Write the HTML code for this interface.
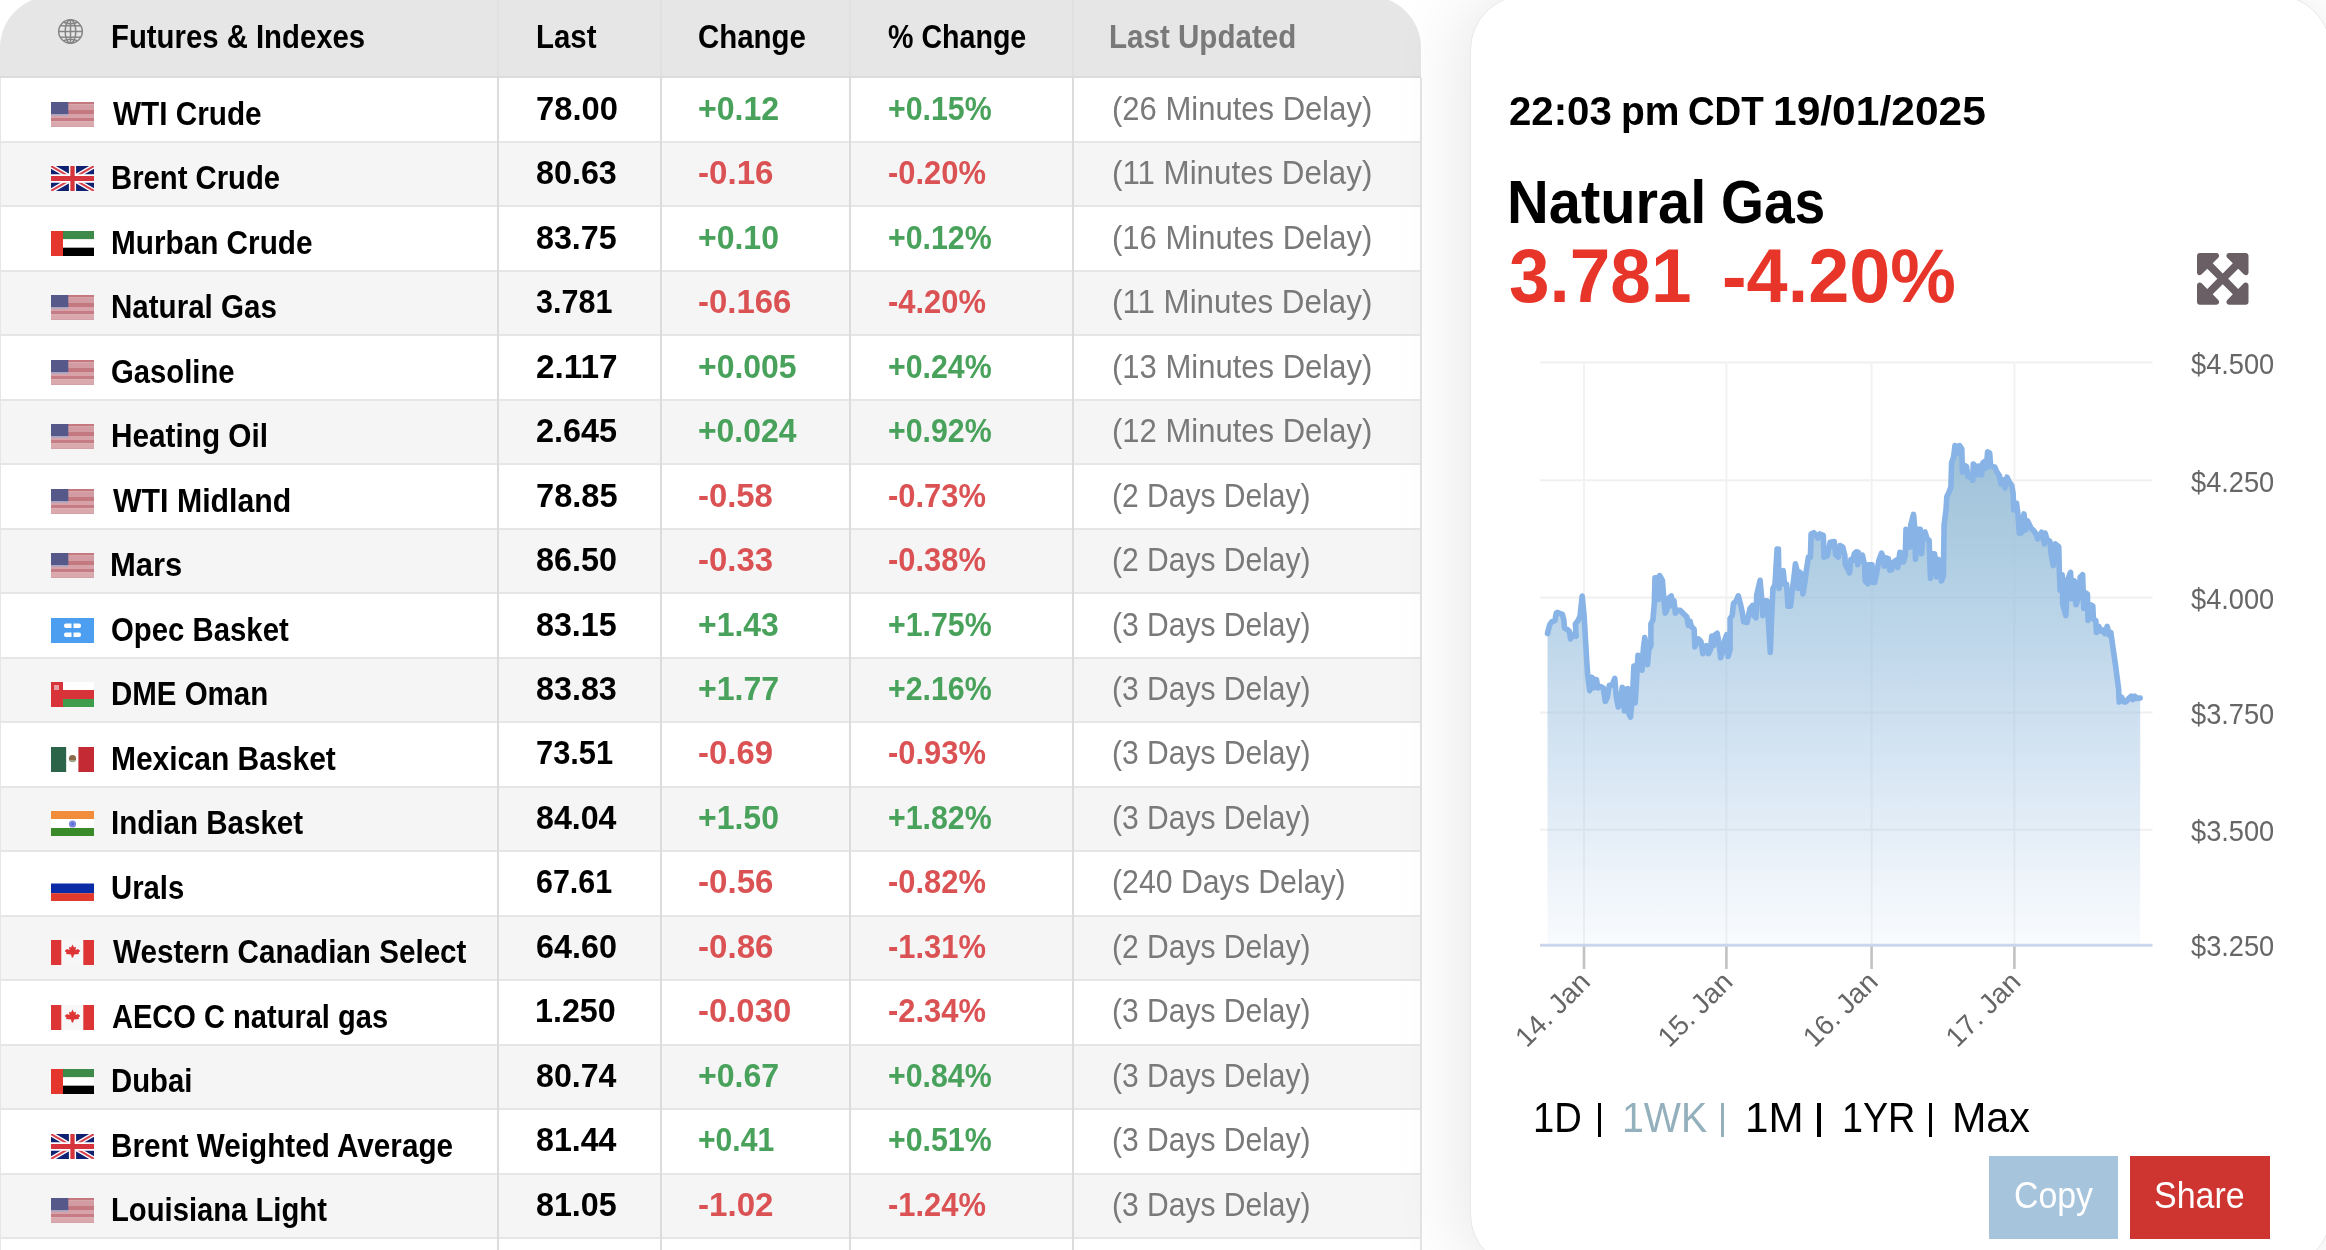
<!DOCTYPE html><html><head><meta charset="utf-8"><style>
html,body{margin:0;padding:0;}
body{width:2326px;height:1250px;overflow:hidden;position:relative;background:#fff;font-family:"Liberation Sans",sans-serif;}
.t{position:absolute;white-space:nowrap;line-height:1;transform-origin:0 0;}
.a{position:absolute;}
</style></head><body>
<div class="a" style="left:0;top:-4px;width:1421px;height:80px;background:#e6e6e6;border-radius:52px 52px 0 0;"></div>
<div class="a" style="left:0;top:76px;width:1421px;height:2px;background:#dcdcdc;"></div>
<div class="a" style="left:497px;top:0;width:2px;height:76px;background:#e0e0e0;"></div>
<div class="a" style="left:660px;top:0;width:2px;height:76px;background:#e0e0e0;"></div>
<div class="a" style="left:849px;top:0;width:2px;height:76px;background:#e0e0e0;"></div>
<div class="a" style="left:1072px;top:0;width:2px;height:76px;background:#e0e0e0;"></div>
<div class="a" style="left:0;top:78.00px;width:1421px;height:62.90px;background:#fff;"></div>
<div class="a" style="left:0;top:140.90px;width:1421px;height:2px;background:#e6e6e6;"></div>
<div class="a" style="left:0;top:142.90px;width:1421px;height:62.49px;background:#f5f5f5;"></div>
<div class="a" style="left:0;top:205.39px;width:1421px;height:2px;background:#e6e6e6;"></div>
<div class="a" style="left:0;top:207.39px;width:1421px;height:62.49px;background:#fff;"></div>
<div class="a" style="left:0;top:269.88px;width:1421px;height:2px;background:#e6e6e6;"></div>
<div class="a" style="left:0;top:271.88px;width:1421px;height:62.49px;background:#f5f5f5;"></div>
<div class="a" style="left:0;top:334.37px;width:1421px;height:2px;background:#e6e6e6;"></div>
<div class="a" style="left:0;top:336.37px;width:1421px;height:62.49px;background:#fff;"></div>
<div class="a" style="left:0;top:398.86px;width:1421px;height:2px;background:#e6e6e6;"></div>
<div class="a" style="left:0;top:400.86px;width:1421px;height:62.49px;background:#f5f5f5;"></div>
<div class="a" style="left:0;top:463.35px;width:1421px;height:2px;background:#e6e6e6;"></div>
<div class="a" style="left:0;top:465.35px;width:1421px;height:62.49px;background:#fff;"></div>
<div class="a" style="left:0;top:527.84px;width:1421px;height:2px;background:#e6e6e6;"></div>
<div class="a" style="left:0;top:529.84px;width:1421px;height:62.49px;background:#f5f5f5;"></div>
<div class="a" style="left:0;top:592.33px;width:1421px;height:2px;background:#e6e6e6;"></div>
<div class="a" style="left:0;top:594.33px;width:1421px;height:62.49px;background:#fff;"></div>
<div class="a" style="left:0;top:656.82px;width:1421px;height:2px;background:#e6e6e6;"></div>
<div class="a" style="left:0;top:658.82px;width:1421px;height:62.49px;background:#f5f5f5;"></div>
<div class="a" style="left:0;top:721.31px;width:1421px;height:2px;background:#e6e6e6;"></div>
<div class="a" style="left:0;top:723.31px;width:1421px;height:62.49px;background:#fff;"></div>
<div class="a" style="left:0;top:785.80px;width:1421px;height:2px;background:#e6e6e6;"></div>
<div class="a" style="left:0;top:787.80px;width:1421px;height:62.49px;background:#f5f5f5;"></div>
<div class="a" style="left:0;top:850.29px;width:1421px;height:2px;background:#e6e6e6;"></div>
<div class="a" style="left:0;top:852.29px;width:1421px;height:62.49px;background:#fff;"></div>
<div class="a" style="left:0;top:914.78px;width:1421px;height:2px;background:#e6e6e6;"></div>
<div class="a" style="left:0;top:916.78px;width:1421px;height:62.49px;background:#f5f5f5;"></div>
<div class="a" style="left:0;top:979.27px;width:1421px;height:2px;background:#e6e6e6;"></div>
<div class="a" style="left:0;top:981.27px;width:1421px;height:62.49px;background:#fff;"></div>
<div class="a" style="left:0;top:1043.76px;width:1421px;height:2px;background:#e6e6e6;"></div>
<div class="a" style="left:0;top:1045.76px;width:1421px;height:62.49px;background:#f5f5f5;"></div>
<div class="a" style="left:0;top:1108.25px;width:1421px;height:2px;background:#e6e6e6;"></div>
<div class="a" style="left:0;top:1110.25px;width:1421px;height:62.49px;background:#fff;"></div>
<div class="a" style="left:0;top:1172.74px;width:1421px;height:2px;background:#e6e6e6;"></div>
<div class="a" style="left:0;top:1174.74px;width:1421px;height:62.49px;background:#f5f5f5;"></div>
<div class="a" style="left:0;top:1237.23px;width:1421px;height:2px;background:#e6e6e6;"></div>
<div class="a" style="left:0;top:1239.23px;width:1421px;height:62.49px;background:#fff;"></div>
<div class="a" style="left:0;top:1301.72px;width:1421px;height:2px;background:#e6e6e6;"></div>
<div class="a" style="left:0;top:78px;width:1px;height:1200px;background:#e6e6e6;"></div>
<div class="a" style="left:497px;top:78px;width:2px;height:1200px;background:#dcdcdc;"></div>
<div class="a" style="left:660px;top:78px;width:2px;height:1200px;background:#dcdcdc;"></div>
<div class="a" style="left:849px;top:78px;width:2px;height:1200px;background:#dcdcdc;"></div>
<div class="a" style="left:1072px;top:78px;width:2px;height:1200px;background:#dcdcdc;"></div>
<div class="a" style="left:1420px;top:78px;width:2px;height:1260px;background:#e4e4e4;"></div>
<svg class="a" style="left:57px;top:17.8px;filter:blur(0.35px)" width="27" height="27" viewBox="0 0 27 27"><g fill="none" stroke="#858585" stroke-width="1.5"><circle cx="13.5" cy="13.5" r="11.8"/><ellipse cx="13.5" cy="13.5" rx="5.3" ry="11.8"/><line x1="13.5" y1="1.7" x2="13.5" y2="25.3"/><line x1="1.7" y1="13.5" x2="25.3" y2="13.5"/><line x1="3" y1="7.8" x2="24" y2="7.8"/><line x1="3" y1="19.2" x2="24" y2="19.2"/><path d="M6.5,4.2 Q13.5,7.2 20.5,4.2"/><path d="M6.5,22.8 Q13.5,19.8 20.5,22.8"/></g></svg>
<span class="t" style="left:110.58px;top:21px;font-size:32.5px;font-weight:bold;color:#000;transform:scaleX(0.9021);">Futures &amp; Indexes</span>
<span class="t" style="left:536.08px;top:21px;font-size:32.5px;font-weight:bold;color:#000;transform:scaleX(0.9049);">Last</span>
<span class="t" style="left:698.25px;top:21px;font-size:32.5px;font-weight:bold;color:#000;transform:scaleX(0.9058);">Change</span>
<span class="t" style="left:888.34px;top:21px;font-size:32.5px;font-weight:bold;color:#000;transform:scaleX(0.8800);">% Change</span>
<span class="t" style="left:1109.37px;top:21px;font-size:32.5px;font-weight:bold;color:#797979;transform:scaleX(0.9095);">Last Updated</span>
<div class="a" style="left:51px;top:102.00px;width:43px;height:25px;filter:blur(0.45px);"><svg width="43" height="25" viewBox="0 0 43 25"><rect x="0" y="0" width="43" height="2.55" fill="#c57880"/><rect x="0" y="2.5" width="43" height="5.55" fill="#d39ca2"/><rect x="0" y="8.0" width="43" height="4.05" fill="#c47981"/><rect x="0" y="12.0" width="43" height="4.05" fill="#d7a2a8"/><rect x="0" y="16.0" width="43" height="3.55" fill="#c57c84"/><rect x="0" y="19.5" width="43" height="4.55" fill="#d9a9ae"/><rect x="0" y="24.0" width="43" height="1.05" fill="#d3a1a7"/><rect x="0" y="0" width="17.3" height="12.2" fill="#56588a"/><rect x="0" y="12.2" width="17.3" height="1.6" fill="#a9a9c4"/></svg></div>
<span class="t" style="left:112.50px;top:98px;font-size:32.5px;font-weight:bold;color:#000;transform:scaleX(0.9148);">WTI Crude</span>
<span class="t" style="left:535.62px;top:93px;font-size:32.5px;font-weight:bold;color:#000;transform:scaleX(1.0064);">78.00</span>
<span class="t" style="left:697.64px;top:93px;font-size:32.5px;font-weight:bold;color:#49a25b;transform:scaleX(0.9874);">+0.12</span>
<span class="t" style="left:887.72px;top:93px;font-size:32.5px;font-weight:bold;color:#49a25b;transform:scaleX(0.9323);">+0.15%</span>
<span class="t" style="left:1111.59px;top:93px;font-size:32.5px;font-weight:normal;color:#797979;transform:scaleX(0.9544);">(26 Minutes Delay)</span>
<div class="a" style="left:51px;top:166.49px;width:43px;height:25px;filter:blur(0.45px);"><svg width="43" height="25" viewBox="0 0 60 30" preserveAspectRatio="none"><rect width="60" height="30" fill="#0f2170"/><path d="M0,0 L60,30 M60,0 L0,30" stroke="#fff" stroke-width="6"/><path d="M0,0 L60,30 M60,0 L0,30" stroke="#d8434f" stroke-width="2.5"/><path d="M30,0 V30 M0,15 H60" stroke="#fff" stroke-width="10"/><path d="M30,0 V30 M0,15 H60" stroke="#d6333d" stroke-width="6"/></svg></div>
<span class="t" style="left:110.59px;top:162px;font-size:32.5px;font-weight:bold;color:#000;transform:scaleX(0.9005);">Brent Crude</span>
<span class="t" style="left:536.01px;top:157px;font-size:32.5px;font-weight:bold;color:#000;transform:scaleX(0.9937);">80.63</span>
<span class="t" style="left:697.73px;top:157px;font-size:32.5px;font-weight:bold;color:#db5254;transform:scaleX(1.0192);">-0.16</span>
<span class="t" style="left:887.81px;top:157px;font-size:32.5px;font-weight:bold;color:#db5254;transform:scaleX(0.9504);">-0.20%</span>
<span class="t" style="left:1111.57px;top:157px;font-size:32.5px;font-weight:normal;color:#797979;transform:scaleX(0.9629);">(11 Minutes Delay)</span>
<div class="a" style="left:51px;top:230.98px;width:43px;height:25px;filter:blur(0.45px);"><svg width="43" height="25" viewBox="0 0 43 25"><rect width="43" height="8.33" fill="#3e8a48"/><rect y="8.33" width="43" height="8.34" fill="#fff"/><rect y="16.67" width="43" height="8.33" fill="#000"/><rect width="12" height="25" fill="#e5362e"/></svg></div>
<span class="t" style="left:110.56px;top:227px;font-size:32.5px;font-weight:bold;color:#000;transform:scaleX(0.9148);">Murban Crude</span>
<span class="t" style="left:536.01px;top:222px;font-size:32.5px;font-weight:bold;color:#000;transform:scaleX(0.9921);">83.75</span>
<span class="t" style="left:697.65px;top:222px;font-size:32.5px;font-weight:bold;color:#49a25b;transform:scaleX(0.9843);">+0.10</span>
<span class="t" style="left:887.72px;top:222px;font-size:32.5px;font-weight:bold;color:#49a25b;transform:scaleX(0.9323);">+0.12%</span>
<span class="t" style="left:1111.59px;top:222px;font-size:32.5px;font-weight:normal;color:#797979;transform:scaleX(0.9544);">(16 Minutes Delay)</span>
<div class="a" style="left:51px;top:295.47px;width:43px;height:25px;filter:blur(0.45px);"><svg width="43" height="25" viewBox="0 0 43 25"><rect x="0" y="0" width="43" height="2.55" fill="#c57880"/><rect x="0" y="2.5" width="43" height="5.55" fill="#d39ca2"/><rect x="0" y="8.0" width="43" height="4.05" fill="#c47981"/><rect x="0" y="12.0" width="43" height="4.05" fill="#d7a2a8"/><rect x="0" y="16.0" width="43" height="3.55" fill="#c57c84"/><rect x="0" y="19.5" width="43" height="4.55" fill="#d9a9ae"/><rect x="0" y="24.0" width="43" height="1.05" fill="#d3a1a7"/><rect x="0" y="0" width="17.3" height="12.2" fill="#56588a"/><rect x="0" y="12.2" width="17.3" height="1.6" fill="#a9a9c4"/></svg></div>
<span class="t" style="left:110.57px;top:291px;font-size:32.5px;font-weight:bold;color:#000;transform:scaleX(0.9092);">Natural Gas</span>
<span class="t" style="left:536.30px;top:286px;font-size:32.5px;font-weight:bold;color:#000;transform:scaleX(0.9388);">3.781</span>
<span class="t" style="left:697.73px;top:286px;font-size:32.5px;font-weight:bold;color:#db5254;transform:scaleX(1.0139);">-0.166</span>
<span class="t" style="left:887.81px;top:286px;font-size:32.5px;font-weight:bold;color:#db5254;transform:scaleX(0.9504);">-4.20%</span>
<span class="t" style="left:1111.57px;top:286px;font-size:32.5px;font-weight:normal;color:#797979;transform:scaleX(0.9629);">(11 Minutes Delay)</span>
<div class="a" style="left:51px;top:359.96px;width:43px;height:25px;filter:blur(0.45px);"><svg width="43" height="25" viewBox="0 0 43 25"><rect x="0" y="0" width="43" height="2.55" fill="#c57880"/><rect x="0" y="2.5" width="43" height="5.55" fill="#d39ca2"/><rect x="0" y="8.0" width="43" height="4.05" fill="#c47981"/><rect x="0" y="12.0" width="43" height="4.05" fill="#d7a2a8"/><rect x="0" y="16.0" width="43" height="3.55" fill="#c57c84"/><rect x="0" y="19.5" width="43" height="4.55" fill="#d9a9ae"/><rect x="0" y="24.0" width="43" height="1.05" fill="#d3a1a7"/><rect x="0" y="0" width="17.3" height="12.2" fill="#56588a"/><rect x="0" y="12.2" width="17.3" height="1.6" fill="#a9a9c4"/></svg></div>
<span class="t" style="left:111.26px;top:356px;font-size:32.5px;font-weight:bold;color:#000;transform:scaleX(0.8999);">Gasoline</span>
<span class="t" style="left:535.85px;top:351px;font-size:32.5px;font-weight:bold;color:#000;transform:scaleX(1.0260);">2.117</span>
<span class="t" style="left:697.65px;top:351px;font-size:32.5px;font-weight:bold;color:#49a25b;transform:scaleX(0.9834);">+0.005</span>
<span class="t" style="left:887.72px;top:351px;font-size:32.5px;font-weight:bold;color:#49a25b;transform:scaleX(0.9323);">+0.24%</span>
<span class="t" style="left:1111.59px;top:351px;font-size:32.5px;font-weight:normal;color:#797979;transform:scaleX(0.9544);">(13 Minutes Delay)</span>
<div class="a" style="left:51px;top:424.45px;width:43px;height:25px;filter:blur(0.45px);"><svg width="43" height="25" viewBox="0 0 43 25"><rect x="0" y="0" width="43" height="2.55" fill="#c57880"/><rect x="0" y="2.5" width="43" height="5.55" fill="#d39ca2"/><rect x="0" y="8.0" width="43" height="4.05" fill="#c47981"/><rect x="0" y="12.0" width="43" height="4.05" fill="#d7a2a8"/><rect x="0" y="16.0" width="43" height="3.55" fill="#c57c84"/><rect x="0" y="19.5" width="43" height="4.55" fill="#d9a9ae"/><rect x="0" y="24.0" width="43" height="1.05" fill="#d3a1a7"/><rect x="0" y="0" width="17.3" height="12.2" fill="#56588a"/><rect x="0" y="12.2" width="17.3" height="1.6" fill="#a9a9c4"/></svg></div>
<span class="t" style="left:110.55px;top:420px;font-size:32.5px;font-weight:bold;color:#000;transform:scaleX(0.9155);">Heating Oil</span>
<span class="t" style="left:535.88px;top:415px;font-size:32.5px;font-weight:bold;color:#000;transform:scaleX(0.9968);">2.645</span>
<span class="t" style="left:697.65px;top:415px;font-size:32.5px;font-weight:bold;color:#49a25b;transform:scaleX(0.9810);">+0.024</span>
<span class="t" style="left:887.72px;top:415px;font-size:32.5px;font-weight:bold;color:#49a25b;transform:scaleX(0.9323);">+0.92%</span>
<span class="t" style="left:1111.59px;top:415px;font-size:32.5px;font-weight:normal;color:#797979;transform:scaleX(0.9544);">(12 Minutes Delay)</span>
<div class="a" style="left:51px;top:488.94px;width:43px;height:25px;filter:blur(0.45px);"><svg width="43" height="25" viewBox="0 0 43 25"><rect x="0" y="0" width="43" height="2.55" fill="#c57880"/><rect x="0" y="2.5" width="43" height="5.55" fill="#d39ca2"/><rect x="0" y="8.0" width="43" height="4.05" fill="#c47981"/><rect x="0" y="12.0" width="43" height="4.05" fill="#d7a2a8"/><rect x="0" y="16.0" width="43" height="3.55" fill="#c57c84"/><rect x="0" y="19.5" width="43" height="4.55" fill="#d9a9ae"/><rect x="0" y="24.0" width="43" height="1.05" fill="#d3a1a7"/><rect x="0" y="0" width="17.3" height="12.2" fill="#56588a"/><rect x="0" y="12.2" width="17.3" height="1.6" fill="#a9a9c4"/></svg></div>
<span class="t" style="left:112.50px;top:485px;font-size:32.5px;font-weight:bold;color:#000;transform:scaleX(0.9320);">WTI Midland</span>
<span class="t" style="left:535.62px;top:480px;font-size:32.5px;font-weight:bold;color:#000;transform:scaleX(1.0032);">78.85</span>
<span class="t" style="left:697.74px;top:480px;font-size:32.5px;font-weight:bold;color:#db5254;transform:scaleX(1.0104);">-0.58</span>
<span class="t" style="left:887.81px;top:480px;font-size:32.5px;font-weight:bold;color:#db5254;transform:scaleX(0.9504);">-0.73%</span>
<span class="t" style="left:1111.65px;top:480px;font-size:32.5px;font-weight:normal;color:#797979;transform:scaleX(0.9236);">(2 Days Delay)</span>
<div class="a" style="left:51px;top:553.43px;width:43px;height:25px;filter:blur(0.45px);"><svg width="43" height="25" viewBox="0 0 43 25"><rect x="0" y="0" width="43" height="2.55" fill="#c57880"/><rect x="0" y="2.5" width="43" height="5.55" fill="#d39ca2"/><rect x="0" y="8.0" width="43" height="4.05" fill="#c47981"/><rect x="0" y="12.0" width="43" height="4.05" fill="#d7a2a8"/><rect x="0" y="16.0" width="43" height="3.55" fill="#c57c84"/><rect x="0" y="19.5" width="43" height="4.55" fill="#d9a9ae"/><rect x="0" y="24.0" width="43" height="1.05" fill="#d3a1a7"/><rect x="0" y="0" width="17.3" height="12.2" fill="#56588a"/><rect x="0" y="12.2" width="17.3" height="1.6" fill="#a9a9c4"/></svg></div>
<span class="t" style="left:110.47px;top:549px;font-size:32.5px;font-weight:bold;color:#000;transform:scaleX(0.9534);">Mars</span>
<span class="t" style="left:536.00px;top:544px;font-size:32.5px;font-weight:bold;color:#000;transform:scaleX(0.9953);">86.50</span>
<span class="t" style="left:697.73px;top:544px;font-size:32.5px;font-weight:bold;color:#db5254;transform:scaleX(1.0140);">-0.33</span>
<span class="t" style="left:887.81px;top:544px;font-size:32.5px;font-weight:bold;color:#db5254;transform:scaleX(0.9504);">-0.38%</span>
<span class="t" style="left:1111.65px;top:544px;font-size:32.5px;font-weight:normal;color:#797979;transform:scaleX(0.9236);">(2 Days Delay)</span>
<div class="a" style="left:51px;top:617.92px;width:43px;height:25px;filter:blur(0.45px);"><svg width="43" height="25" viewBox="0 0 43 25"><rect width="43" height="25" fill="#4b9ef0"/><rect x="13" y="5.5" width="17" height="4.5" rx="2" fill="#fff"/><rect x="13" y="14.5" width="17" height="4.5" rx="2" fill="#fff"/><rect x="20.5" y="5" width="2" height="15" fill="#4b9ef0"/></svg></div>
<span class="t" style="left:111.26px;top:614px;font-size:32.5px;font-weight:bold;color:#000;transform:scaleX(0.9027);">Opec Basket</span>
<span class="t" style="left:536.01px;top:609px;font-size:32.5px;font-weight:bold;color:#000;transform:scaleX(0.9921);">83.15</span>
<span class="t" style="left:697.65px;top:609px;font-size:32.5px;font-weight:bold;color:#49a25b;transform:scaleX(0.9827);">+1.43</span>
<span class="t" style="left:887.72px;top:609px;font-size:32.5px;font-weight:bold;color:#49a25b;transform:scaleX(0.9323);">+1.75%</span>
<span class="t" style="left:1111.65px;top:609px;font-size:32.5px;font-weight:normal;color:#797979;transform:scaleX(0.9236);">(3 Days Delay)</span>
<div class="a" style="left:51px;top:682.41px;width:43px;height:25px;filter:blur(0.45px);"><svg width="43" height="25" viewBox="0 0 43 25"><rect width="43" height="25" fill="#d9333a"/><rect x="12" width="31" height="8" fill="#fff"/><rect x="12" y="17" width="31" height="8" fill="#3f9c4a"/><rect x="3" y="3" width="5" height="5" fill="#e6a0a6"/></svg></div>
<span class="t" style="left:110.57px;top:678px;font-size:32.5px;font-weight:bold;color:#000;transform:scaleX(0.9069);">DME Oman</span>
<span class="t" style="left:536.01px;top:673px;font-size:32.5px;font-weight:bold;color:#000;transform:scaleX(0.9937);">83.83</span>
<span class="t" style="left:697.64px;top:673px;font-size:32.5px;font-weight:bold;color:#49a25b;transform:scaleX(0.9874);">+1.77</span>
<span class="t" style="left:887.72px;top:673px;font-size:32.5px;font-weight:bold;color:#49a25b;transform:scaleX(0.9323);">+2.16%</span>
<span class="t" style="left:1111.65px;top:673px;font-size:32.5px;font-weight:normal;color:#797979;transform:scaleX(0.9236);">(3 Days Delay)</span>
<div class="a" style="left:51px;top:746.90px;width:43px;height:25px;filter:blur(0.45px);"><svg width="43" height="25" viewBox="0 0 43 25"><rect width="15.4" height="25" fill="#2c6449"/><rect x="15.4" width="12" height="25" fill="#fff"/><rect x="27.4" width="15.6" height="25" fill="#c42a33"/><circle cx="21.5" cy="11.5" r="3.6" fill="#8a6a4a"/><path d="M18.2,13 A3.6,3.6 0 0 0 24.8,13 Z" fill="#9aa88a"/></svg></div>
<span class="t" style="left:110.54px;top:743px;font-size:32.5px;font-weight:bold;color:#000;transform:scaleX(0.9218);">Mexican Basket</span>
<span class="t" style="left:535.70px;top:737px;font-size:32.5px;font-weight:bold;color:#000;transform:scaleX(0.9478);">73.51</span>
<span class="t" style="left:697.73px;top:737px;font-size:32.5px;font-weight:bold;color:#db5254;transform:scaleX(1.0122);">-0.69</span>
<span class="t" style="left:887.81px;top:737px;font-size:32.5px;font-weight:bold;color:#db5254;transform:scaleX(0.9504);">-0.93%</span>
<span class="t" style="left:1111.65px;top:737px;font-size:32.5px;font-weight:normal;color:#797979;transform:scaleX(0.9236);">(3 Days Delay)</span>
<div class="a" style="left:51px;top:811.39px;width:43px;height:25px;filter:blur(0.45px);"><svg width="43" height="25" viewBox="0 0 43 25"><rect width="43" height="8" fill="#f08c3a"/><rect y="8" width="43" height="9" fill="#fff"/><rect y="17" width="43" height="8" fill="#3b8a2a"/><circle cx="21.5" cy="13" r="3.6" fill="#7c88e0"/><circle cx="21.5" cy="13" r="1.4" fill="#5a6ad0"/></svg></div>
<span class="t" style="left:110.57px;top:807px;font-size:32.5px;font-weight:bold;color:#000;transform:scaleX(0.9090);">Indian Basket</span>
<span class="t" style="left:536.01px;top:802px;font-size:32.5px;font-weight:bold;color:#000;transform:scaleX(0.9891);">84.04</span>
<span class="t" style="left:697.65px;top:802px;font-size:32.5px;font-weight:bold;color:#49a25b;transform:scaleX(0.9843);">+1.50</span>
<span class="t" style="left:887.72px;top:802px;font-size:32.5px;font-weight:bold;color:#49a25b;transform:scaleX(0.9323);">+1.82%</span>
<span class="t" style="left:1111.65px;top:802px;font-size:32.5px;font-weight:normal;color:#797979;transform:scaleX(0.9236);">(3 Days Delay)</span>
<div class="a" style="left:51px;top:875.88px;width:43px;height:25px;filter:blur(0.45px);"><svg width="43" height="25" viewBox="0 0 43 25"><rect width="43" height="7.5" fill="#fff"/><rect y="7.5" width="43" height="9.7" fill="#0b2aa6"/><rect y="17.2" width="43" height="7.8" fill="#e23a2c"/></svg></div>
<span class="t" style="left:110.70px;top:872px;font-size:32.5px;font-weight:bold;color:#000;transform:scaleX(0.9006);">Urals</span>
<span class="t" style="left:535.95px;top:866px;font-size:32.5px;font-weight:bold;color:#000;transform:scaleX(0.9369);">67.61</span>
<span class="t" style="left:697.73px;top:866px;font-size:32.5px;font-weight:bold;color:#db5254;transform:scaleX(1.0192);">-0.56</span>
<span class="t" style="left:887.81px;top:866px;font-size:32.5px;font-weight:bold;color:#db5254;transform:scaleX(0.9504);">-0.82%</span>
<span class="t" style="left:1111.64px;top:866px;font-size:32.5px;font-weight:normal;color:#797979;transform:scaleX(0.9307);">(240 Days Delay)</span>
<div class="a" style="left:51px;top:940.37px;width:43px;height:25px;filter:blur(0.45px);"><svg width="43" height="25" viewBox="0 0 43 25"><rect width="43" height="25" fill="#f7f7f7"/><rect width="10.3" height="25" fill="#dd3535"/><rect x="32.3" width="10.7" height="25" fill="#dd3535"/><path d="M21.5,4.4 L23,7.5 L25,6.8 L24.5,10 L27,9 L29.4,11 L27.5,12.5 L28,14 L23,14.5 L22.2,17.5 L20.8,17.5 L20,14.5 L15,14 L15.5,12.5 L13.6,11 L16,9 L18.5,10 L18,6.8 L20,7.5 Z" fill="#dd3535"/></svg></div>
<span class="t" style="left:112.50px;top:936px;font-size:32.5px;font-weight:bold;color:#000;transform:scaleX(0.9116);">Western Canadian Select</span>
<span class="t" style="left:535.88px;top:931px;font-size:32.5px;font-weight:bold;color:#000;transform:scaleX(0.9952);">64.60</span>
<span class="t" style="left:697.73px;top:931px;font-size:32.5px;font-weight:bold;color:#db5254;transform:scaleX(1.0192);">-0.86</span>
<span class="t" style="left:887.81px;top:931px;font-size:32.5px;font-weight:bold;color:#db5254;transform:scaleX(0.9504);">-1.31%</span>
<span class="t" style="left:1111.65px;top:931px;font-size:32.5px;font-weight:normal;color:#797979;transform:scaleX(0.9236);">(2 Days Delay)</span>
<div class="a" style="left:51px;top:1004.86px;width:43px;height:25px;filter:blur(0.45px);"><svg width="43" height="25" viewBox="0 0 43 25"><rect width="43" height="25" fill="#f7f7f7"/><rect width="10.3" height="25" fill="#dd3535"/><rect x="32.3" width="10.7" height="25" fill="#dd3535"/><path d="M21.5,4.4 L23,7.5 L25,6.8 L24.5,10 L27,9 L29.4,11 L27.5,12.5 L28,14 L23,14.5 L22.2,17.5 L20.8,17.5 L20,14.5 L15,14 L15.5,12.5 L13.6,11 L16,9 L18.5,10 L18,6.8 L20,7.5 Z" fill="#dd3535"/></svg></div>
<span class="t" style="left:111.72px;top:1001px;font-size:32.5px;font-weight:bold;color:#000;transform:scaleX(0.8940);">AECO C natural gas</span>
<span class="t" style="left:535.02px;top:995px;font-size:32.5px;font-weight:bold;color:#000;transform:scaleX(0.9920);">1.250</span>
<span class="t" style="left:697.74px;top:995px;font-size:32.5px;font-weight:bold;color:#db5254;transform:scaleX(1.0112);">-0.030</span>
<span class="t" style="left:887.81px;top:995px;font-size:32.5px;font-weight:bold;color:#db5254;transform:scaleX(0.9504);">-2.34%</span>
<span class="t" style="left:1111.65px;top:995px;font-size:32.5px;font-weight:normal;color:#797979;transform:scaleX(0.9236);">(3 Days Delay)</span>
<div class="a" style="left:51px;top:1069.35px;width:43px;height:25px;filter:blur(0.45px);"><svg width="43" height="25" viewBox="0 0 43 25"><rect width="43" height="8.33" fill="#3e8a48"/><rect y="8.33" width="43" height="8.34" fill="#fff"/><rect y="16.67" width="43" height="8.33" fill="#000"/><rect width="12" height="25" fill="#e5362e"/></svg></div>
<span class="t" style="left:110.59px;top:1065px;font-size:32.5px;font-weight:bold;color:#000;transform:scaleX(0.9010);">Dubai</span>
<span class="t" style="left:536.01px;top:1060px;font-size:32.5px;font-weight:bold;color:#000;transform:scaleX(0.9891);">80.74</span>
<span class="t" style="left:697.64px;top:1060px;font-size:32.5px;font-weight:bold;color:#49a25b;transform:scaleX(0.9874);">+0.67</span>
<span class="t" style="left:887.72px;top:1060px;font-size:32.5px;font-weight:bold;color:#49a25b;transform:scaleX(0.9323);">+0.84%</span>
<span class="t" style="left:1111.65px;top:1060px;font-size:32.5px;font-weight:normal;color:#797979;transform:scaleX(0.9236);">(3 Days Delay)</span>
<div class="a" style="left:51px;top:1133.84px;width:43px;height:25px;filter:blur(0.45px);"><svg width="43" height="25" viewBox="0 0 60 30" preserveAspectRatio="none"><rect width="60" height="30" fill="#0f2170"/><path d="M0,0 L60,30 M60,0 L0,30" stroke="#fff" stroke-width="6"/><path d="M0,0 L60,30 M60,0 L0,30" stroke="#d8434f" stroke-width="2.5"/><path d="M30,0 V30 M0,15 H60" stroke="#fff" stroke-width="10"/><path d="M30,0 V30 M0,15 H60" stroke="#d6333d" stroke-width="6"/></svg></div>
<span class="t" style="left:110.56px;top:1130px;font-size:32.5px;font-weight:bold;color:#000;transform:scaleX(0.9135);">Brent Weighted Average</span>
<span class="t" style="left:536.01px;top:1124px;font-size:32.5px;font-weight:bold;color:#000;transform:scaleX(0.9891);">81.44</span>
<span class="t" style="left:697.73px;top:1124px;font-size:32.5px;font-weight:bold;color:#49a25b;transform:scaleX(0.9264);">+0.41</span>
<span class="t" style="left:887.72px;top:1124px;font-size:32.5px;font-weight:bold;color:#49a25b;transform:scaleX(0.9323);">+0.51%</span>
<span class="t" style="left:1111.65px;top:1124px;font-size:32.5px;font-weight:normal;color:#797979;transform:scaleX(0.9236);">(3 Days Delay)</span>
<div class="a" style="left:51px;top:1198.33px;width:43px;height:25px;filter:blur(0.45px);"><svg width="43" height="25" viewBox="0 0 43 25"><rect x="0" y="0" width="43" height="2.55" fill="#c57880"/><rect x="0" y="2.5" width="43" height="5.55" fill="#d39ca2"/><rect x="0" y="8.0" width="43" height="4.05" fill="#c47981"/><rect x="0" y="12.0" width="43" height="4.05" fill="#d7a2a8"/><rect x="0" y="16.0" width="43" height="3.55" fill="#c57c84"/><rect x="0" y="19.5" width="43" height="4.55" fill="#d9a9ae"/><rect x="0" y="24.0" width="43" height="1.05" fill="#d3a1a7"/><rect x="0" y="0" width="17.3" height="12.2" fill="#56588a"/><rect x="0" y="12.2" width="17.3" height="1.6" fill="#a9a9c4"/></svg></div>
<span class="t" style="left:110.59px;top:1194px;font-size:32.5px;font-weight:bold;color:#000;transform:scaleX(0.8990);">Louisiana Light</span>
<span class="t" style="left:536.01px;top:1189px;font-size:32.5px;font-weight:bold;color:#000;transform:scaleX(0.9921);">81.05</span>
<span class="t" style="left:697.73px;top:1189px;font-size:32.5px;font-weight:bold;color:#db5254;transform:scaleX(1.0192);">-1.02</span>
<span class="t" style="left:887.81px;top:1189px;font-size:32.5px;font-weight:bold;color:#db5254;transform:scaleX(0.9504);">-1.24%</span>
<span class="t" style="left:1111.65px;top:1189px;font-size:32.5px;font-weight:normal;color:#797979;transform:scaleX(0.9236);">(3 Days Delay)</span>
<div class="a" style="left:1371px;top:-60px;width:100px;height:1400px;"></div>
<div class="a" style="left:1470px;top:-5px;width:859px;height:1272px;background:#fff;border:1px solid #e8e8e8;border-radius:55px;box-shadow:-10px 0 70px rgba(0,0,0,0.094);"></div>
<span class="t" style="left:1508.54px;top:91px;font-size:40.75px;font-weight:bold;color:#000;transform:scaleX(0.9862);">22:03</span>
<span class="t" style="left:1620.59px;top:91px;font-size:40.75px;font-weight:bold;color:#000;transform:scaleX(0.9571);">pm</span>
<span class="t" style="left:1688.43px;top:91px;font-size:40.75px;font-weight:bold;color:#000;transform:scaleX(0.9040);">CDT</span>
<span class="t" style="left:1773.29px;top:91px;font-size:40.75px;font-weight:bold;color:#000;transform:scaleX(1.0437);">19/01/2025</span>
<span class="t" style="left:1507.42px;top:171px;font-size:61.5px;font-weight:bold;color:#000;transform:scaleX(0.9401);">Natural</span>
<span class="t" style="left:1720.96px;top:171px;font-size:61.5px;font-weight:bold;color:#000;transform:scaleX(0.8971);">Gas</span>
<span class="t" style="left:1508.63px;top:238px;font-size:76.5px;font-weight:bold;color:#e8352a;transform:scaleX(0.9531);">3.781</span>
<span class="t" style="left:1722.00px;top:238px;font-size:76.5px;font-weight:bold;color:#e8352a;transform:scaleX(0.9651);">-4.20%</span>
<svg class="a" style="left:2197px;top:253.3px" width="51.5" height="51.7" viewBox="32 32 448 448" preserveAspectRatio="none"><path fill="#6a5f65" d="M200 32H56C42.7 32 32 42.7 32 56V200c0 9.7 5.8 18.5 14.8 22.2s19.3 1.7 26.2-5.2L121.5 168.5L209 256L121.5 343.5L73 295c-6.9-6.9-17.2-8.9-26.2-5.2S32 302.3 32 312V456c0 13.3 10.7 24 24 24H200c9.7 0 18.5-5.8 22.2-14.8s1.7-19.3-5.2-26.2L168.5 390.5L256 303L343.5 390.5L295 439c-6.9 6.9-8.9 17.2-5.2 26.2s12.5 14.8 22.2 14.8H456c13.3 0 24-10.7 24-24V312c0-9.7-5.8-18.5-14.8-22.2s-19.3-1.7-26.2 5.2L390.5 343.5L303 256L390.5 168.5L439 217c6.9 6.9 17.2 8.9 26.2 5.2s14.8-12.5 14.8-22.2V56c0-13.3-10.7-24-24-24H312c-9.7 0-18.5 5.8-22.2 14.8s-1.7 19.3 5.2 26.2L343.5 121.5L256 209L168.5 121.5L217 73c6.9-6.9 8.9-17.2 5.2-26.2S209.7 32 200 32z"/></svg>
<svg class="a" style="left:0;top:0;will-change:transform" width="2326" height="1250" viewBox="0 0 2326 1250"><defs><linearGradient id="g" x1="0" y1="443" x2="0" y2="977" gradientUnits="userSpaceOnUse"><stop offset="0" stop-color="rgb(158,193,215)" stop-opacity="1"/><stop offset="0.191" stop-color="rgb(154,192,218)" stop-opacity="0.809"/><stop offset="0.481" stop-color="rgb(153,191,224)" stop-opacity="0.519"/><stop offset="0.856" stop-color="rgb(158,192,227)" stop-opacity="0.144"/><stop offset="1" stop-color="rgb(158,192,228)" stop-opacity="0"/></linearGradient></defs><line x1="1540" y1="362.5" x2="2152.5" y2="362.5" stroke="#f0f0f0" stroke-width="2"/><line x1="1540" y1="480.2" x2="2152.5" y2="480.2" stroke="#f0f0f0" stroke-width="2"/><line x1="1540" y1="597.5" x2="2152.5" y2="597.5" stroke="#f0f0f0" stroke-width="2"/><line x1="1540" y1="712.5" x2="2152.5" y2="712.5" stroke="#f0f0f0" stroke-width="2"/><line x1="1540" y1="829.8" x2="2152.5" y2="829.8" stroke="#f0f0f0" stroke-width="2"/><line x1="1584" y1="362" x2="1584" y2="944" stroke="#f2f2f2" stroke-width="2"/><line x1="1726.4" y1="362" x2="1726.4" y2="944" stroke="#f2f2f2" stroke-width="2"/><line x1="1871.6" y1="362" x2="1871.6" y2="944" stroke="#f2f2f2" stroke-width="2"/><line x1="2014.4" y1="362" x2="2014.4" y2="944" stroke="#f2f2f2" stroke-width="2"/><path d="M1547.5,633.5 L1549.5,625.3 L1551.6,621.9 L1555.0,620.5 L1556.3,613.0 L1557.7,612.4 L1560.4,613.7 L1562.4,614.4 L1563.8,619.9 L1564.5,628.0 L1567.2,629.4 L1569.3,631.4 L1570.6,638.9 L1572.7,635.5 L1574.7,633.5 L1576.1,636.2 L1575.4,624.0 L1578.1,620.5 L1580.1,615.8 L1582.2,596.0 L1584.2,617.1 L1585.6,641.6 L1586.9,663.4 L1587.6,674.3 L1589.7,690.6 L1591.0,677.0 L1593.0,678.4 L1593.7,687.9 L1596.5,679.7 L1597.8,687.9 L1600.5,686.5 L1603.3,687.9 L1605.3,701.5 L1607.3,697.4 L1609.4,685.2 L1612.1,685.2 L1614.8,678.4 L1616.2,696.0 L1618.2,707.0 L1620.3,701.5 L1622.3,687.2 L1624.4,711.0 L1625.7,689.3 L1627.8,688.6 L1628.4,712.4 L1630.5,717.1 L1632.5,696.0 L1633.9,666.1 L1635.2,702.9 L1636.6,679.7 L1638.0,655.2 L1640.0,663.4 L1642.0,670.2 L1643.4,648.4 L1644.8,637.6 L1646.1,645.7 L1647.5,664.8 L1648.8,649.8 L1650.9,645.7 L1650.9,623.9 L1652.9,619.9 L1654.3,603.5 L1655.0,577.7 L1657.0,577.7 L1658.4,599.5 L1659.7,575.6 L1662.4,580.4 L1663.8,598.1 L1665.2,613.1 L1667.2,609.0 L1668.6,598.1 L1671.3,596.0 L1672.7,606.3 L1674.0,600.8 L1675.4,613.1 L1677.4,610.3 L1680.1,610.3 L1683.5,613.7 L1686.9,617.1 L1688.3,625.3 L1690.0,621.1 L1691.4,626.5 L1694.1,629.3 L1694.8,647.0 L1698.2,638.8 L1700.9,641.5 L1702.9,653.7 L1706.3,645.6 L1708.4,653.7 L1710.4,649.7 L1711.8,636.0 L1713.8,645.6 L1715.2,634.7 L1717.2,633.3 L1719.3,644.2 L1720.6,657.8 L1723.3,649.7 L1724.7,640.1 L1726.7,634.7 L1728.1,656.5 L1730.1,649.7 L1730.1,618.4 L1732.2,615.6 L1733.5,603.4 L1736.3,600.7 L1738.3,595.9 L1740.3,603.4 L1742.4,612.9 L1743.7,621.8 L1747.1,622.4 L1749.9,608.8 L1752.6,605.4 L1753.9,615.6 L1756.0,617.7 L1756.7,595.2 L1760.1,580.3 L1761.4,595.2 L1762.8,615.6 L1764.1,600.7 L1766.9,600.7 L1768.2,618.4 L1770.3,652.4 L1771.6,617.0 L1773.0,588.4 L1775.0,584.4 L1777.1,549.0 L1778.4,549.0 L1779.1,588.4 L1781.2,572.1 L1783.2,570.7 L1784.6,584.4 L1786.6,584.4 L1788.0,606.1 L1790.7,606.1 L1792.0,592.5 L1794.1,576.2 L1795.4,563.9 L1797.5,572.1 L1798.2,588.4 L1799.5,572.1 L1802.2,574.8 L1802.9,593.9 L1805.0,581.6 L1806.3,570.7 L1808.4,557.1 L1810.4,557.1 L1811.1,534.0 L1813.8,532.7 L1815.2,534.0 L1817.9,538.1 L1819.9,534.0 L1823.3,535.4 L1824.0,557.1 L1827.4,555.8 L1830.1,542.2 L1834.2,541.5 L1835.6,554.4 L1838.3,557.1 L1840.0,545.6 L1842.7,547.0 L1844.8,555.2 L1845.4,564.7 L1847.5,568.8 L1849.5,572.9 L1850.9,559.3 L1852.9,560.6 L1854.3,553.8 L1856.3,551.8 L1858.4,552.4 L1857.7,564.7 L1860.4,556.5 L1862.4,555.2 L1864.5,564.7 L1865.2,581.0 L1867.9,583.7 L1868.6,564.7 L1872.0,564.7 L1872.7,582.4 L1874.7,582.4 L1876.7,572.9 L1878.8,560.6 L1881.5,553.1 L1883.5,557.9 L1884.2,566.1 L1886.3,557.9 L1888.3,558.6 L1889.7,570.1 L1891.7,569.5 L1893.7,562.0 L1896.5,559.9 L1897.8,567.4 L1899.9,552.4 L1902.6,553.1 L1903.3,562.0 L1905.3,555.2 L1906.0,529.3 L1908.0,547.0 L1910.1,547.0 L1910.7,525.2 L1913.5,514.4 L1914.8,528.0 L1915.5,559.3 L1918.2,529.3 L1920.3,529.3 L1921.6,553.8 L1923.0,533.4 L1925.0,532.0 L1927.1,538.8 L1929.1,540.2 L1930.5,578.3 L1932.5,553.8 L1934.6,553.8 L1936.6,576.9 L1938.0,559.3 L1940.0,560.6 L1941.4,581.0 L1943.4,575.6 L1944.1,525.2 L1946.1,508.9 L1946.8,496.7 L1948.8,492.6 L1950.9,487.1 L1951.6,462.7 L1953.6,457.2 L1955.0,445.6 L1957.0,446.3 L1958.4,453.1 L1959.7,445.6 L1961.8,449.0 L1962.4,472.2 L1964.5,465.4 L1966.5,466.7 L1967.9,476.3 L1970.6,477.6 L1972.7,480.3 L1973.3,464.0 L1976.0,466.7 L1977.4,474.9 L1978.8,466.1 L1981.5,474.9 L1982.9,462.7 L1984.9,461.3 L1986.3,468.1 L1987.6,451.8 L1989.7,453.1 L1990.7,466.3 L1994.8,467.0 L1996.8,471.8 L1999.5,475.9 L2000.9,484.0 L2003.6,479.9 L2005.0,488.1 L2007.0,477.2 L2009.7,482.7 L2011.8,485.4 L2013.1,493.5 L2013.8,509.9 L2016.5,503.1 L2017.9,513.9 L2019.3,533.0 L2021.3,533.0 L2024.0,513.9 L2025.4,530.3 L2027.4,520.7 L2029.5,524.8 L2031.5,528.9 L2033.5,530.3 L2036.3,534.4 L2037.6,539.1 L2041.7,532.3 L2044.4,543.9 L2045.1,533.0 L2047.1,539.8 L2049.9,541.2 L2051.2,554.8 L2053.3,565.6 L2055.3,543.9 L2058.7,546.6 L2059.4,572.4 L2060.1,590.1 L2062.2,574.8 L2062.8,604.8 L2065.8,615.6 L2067.6,579.6 L2070.6,572.4 L2071.8,598.8 L2074.2,580.8 L2076.0,604.8 L2078.4,597.6 L2080.2,577.2 L2082.6,574.8 L2083.8,608.4 L2085.6,592.8 L2087.4,594.0 L2088.0,620.4 L2090.4,604.8 L2092.8,606.0 L2093.4,619.2 L2095.8,620.4 L2096.4,632.4 L2098.8,626.4 L2101.2,631.2 L2103.6,630.0 L2104.8,633.6 L2107.2,626.4 L2109.0,634.8 L2110.8,632.4 L2115.6,666.0 L2118.6,688.8 L2119.2,702.0 L2121.6,697.2 L2124.0,702.0 L2125.8,702.0 L2128.8,698.4 L2131.2,696.2 L2133.0,699.6 L2134.8,696.2 L2137.2,698.5 L2140.2,698.0 L2140.2,945 L1547.5,945 Z" fill="url(#g)"/><path d="M1547.5,633.5 L1549.5,625.3 L1551.6,621.9 L1555.0,620.5 L1556.3,613.0 L1557.7,612.4 L1560.4,613.7 L1562.4,614.4 L1563.8,619.9 L1564.5,628.0 L1567.2,629.4 L1569.3,631.4 L1570.6,638.9 L1572.7,635.5 L1574.7,633.5 L1576.1,636.2 L1575.4,624.0 L1578.1,620.5 L1580.1,615.8 L1582.2,596.0 L1584.2,617.1 L1585.6,641.6 L1586.9,663.4 L1587.6,674.3 L1589.7,690.6 L1591.0,677.0 L1593.0,678.4 L1593.7,687.9 L1596.5,679.7 L1597.8,687.9 L1600.5,686.5 L1603.3,687.9 L1605.3,701.5 L1607.3,697.4 L1609.4,685.2 L1612.1,685.2 L1614.8,678.4 L1616.2,696.0 L1618.2,707.0 L1620.3,701.5 L1622.3,687.2 L1624.4,711.0 L1625.7,689.3 L1627.8,688.6 L1628.4,712.4 L1630.5,717.1 L1632.5,696.0 L1633.9,666.1 L1635.2,702.9 L1636.6,679.7 L1638.0,655.2 L1640.0,663.4 L1642.0,670.2 L1643.4,648.4 L1644.8,637.6 L1646.1,645.7 L1647.5,664.8 L1648.8,649.8 L1650.9,645.7 L1650.9,623.9 L1652.9,619.9 L1654.3,603.5 L1655.0,577.7 L1657.0,577.7 L1658.4,599.5 L1659.7,575.6 L1662.4,580.4 L1663.8,598.1 L1665.2,613.1 L1667.2,609.0 L1668.6,598.1 L1671.3,596.0 L1672.7,606.3 L1674.0,600.8 L1675.4,613.1 L1677.4,610.3 L1680.1,610.3 L1683.5,613.7 L1686.9,617.1 L1688.3,625.3 L1690.0,621.1 L1691.4,626.5 L1694.1,629.3 L1694.8,647.0 L1698.2,638.8 L1700.9,641.5 L1702.9,653.7 L1706.3,645.6 L1708.4,653.7 L1710.4,649.7 L1711.8,636.0 L1713.8,645.6 L1715.2,634.7 L1717.2,633.3 L1719.3,644.2 L1720.6,657.8 L1723.3,649.7 L1724.7,640.1 L1726.7,634.7 L1728.1,656.5 L1730.1,649.7 L1730.1,618.4 L1732.2,615.6 L1733.5,603.4 L1736.3,600.7 L1738.3,595.9 L1740.3,603.4 L1742.4,612.9 L1743.7,621.8 L1747.1,622.4 L1749.9,608.8 L1752.6,605.4 L1753.9,615.6 L1756.0,617.7 L1756.7,595.2 L1760.1,580.3 L1761.4,595.2 L1762.8,615.6 L1764.1,600.7 L1766.9,600.7 L1768.2,618.4 L1770.3,652.4 L1771.6,617.0 L1773.0,588.4 L1775.0,584.4 L1777.1,549.0 L1778.4,549.0 L1779.1,588.4 L1781.2,572.1 L1783.2,570.7 L1784.6,584.4 L1786.6,584.4 L1788.0,606.1 L1790.7,606.1 L1792.0,592.5 L1794.1,576.2 L1795.4,563.9 L1797.5,572.1 L1798.2,588.4 L1799.5,572.1 L1802.2,574.8 L1802.9,593.9 L1805.0,581.6 L1806.3,570.7 L1808.4,557.1 L1810.4,557.1 L1811.1,534.0 L1813.8,532.7 L1815.2,534.0 L1817.9,538.1 L1819.9,534.0 L1823.3,535.4 L1824.0,557.1 L1827.4,555.8 L1830.1,542.2 L1834.2,541.5 L1835.6,554.4 L1838.3,557.1 L1840.0,545.6 L1842.7,547.0 L1844.8,555.2 L1845.4,564.7 L1847.5,568.8 L1849.5,572.9 L1850.9,559.3 L1852.9,560.6 L1854.3,553.8 L1856.3,551.8 L1858.4,552.4 L1857.7,564.7 L1860.4,556.5 L1862.4,555.2 L1864.5,564.7 L1865.2,581.0 L1867.9,583.7 L1868.6,564.7 L1872.0,564.7 L1872.7,582.4 L1874.7,582.4 L1876.7,572.9 L1878.8,560.6 L1881.5,553.1 L1883.5,557.9 L1884.2,566.1 L1886.3,557.9 L1888.3,558.6 L1889.7,570.1 L1891.7,569.5 L1893.7,562.0 L1896.5,559.9 L1897.8,567.4 L1899.9,552.4 L1902.6,553.1 L1903.3,562.0 L1905.3,555.2 L1906.0,529.3 L1908.0,547.0 L1910.1,547.0 L1910.7,525.2 L1913.5,514.4 L1914.8,528.0 L1915.5,559.3 L1918.2,529.3 L1920.3,529.3 L1921.6,553.8 L1923.0,533.4 L1925.0,532.0 L1927.1,538.8 L1929.1,540.2 L1930.5,578.3 L1932.5,553.8 L1934.6,553.8 L1936.6,576.9 L1938.0,559.3 L1940.0,560.6 L1941.4,581.0 L1943.4,575.6 L1944.1,525.2 L1946.1,508.9 L1946.8,496.7 L1948.8,492.6 L1950.9,487.1 L1951.6,462.7 L1953.6,457.2 L1955.0,445.6 L1957.0,446.3 L1958.4,453.1 L1959.7,445.6 L1961.8,449.0 L1962.4,472.2 L1964.5,465.4 L1966.5,466.7 L1967.9,476.3 L1970.6,477.6 L1972.7,480.3 L1973.3,464.0 L1976.0,466.7 L1977.4,474.9 L1978.8,466.1 L1981.5,474.9 L1982.9,462.7 L1984.9,461.3 L1986.3,468.1 L1987.6,451.8 L1989.7,453.1 L1990.7,466.3 L1994.8,467.0 L1996.8,471.8 L1999.5,475.9 L2000.9,484.0 L2003.6,479.9 L2005.0,488.1 L2007.0,477.2 L2009.7,482.7 L2011.8,485.4 L2013.1,493.5 L2013.8,509.9 L2016.5,503.1 L2017.9,513.9 L2019.3,533.0 L2021.3,533.0 L2024.0,513.9 L2025.4,530.3 L2027.4,520.7 L2029.5,524.8 L2031.5,528.9 L2033.5,530.3 L2036.3,534.4 L2037.6,539.1 L2041.7,532.3 L2044.4,543.9 L2045.1,533.0 L2047.1,539.8 L2049.9,541.2 L2051.2,554.8 L2053.3,565.6 L2055.3,543.9 L2058.7,546.6 L2059.4,572.4 L2060.1,590.1 L2062.2,574.8 L2062.8,604.8 L2065.8,615.6 L2067.6,579.6 L2070.6,572.4 L2071.8,598.8 L2074.2,580.8 L2076.0,604.8 L2078.4,597.6 L2080.2,577.2 L2082.6,574.8 L2083.8,608.4 L2085.6,592.8 L2087.4,594.0 L2088.0,620.4 L2090.4,604.8 L2092.8,606.0 L2093.4,619.2 L2095.8,620.4 L2096.4,632.4 L2098.8,626.4 L2101.2,631.2 L2103.6,630.0 L2104.8,633.6 L2107.2,626.4 L2109.0,634.8 L2110.8,632.4 L2115.6,666.0 L2118.6,688.8 L2119.2,702.0 L2121.6,697.2 L2124.0,702.0 L2125.8,702.0 L2128.8,698.4 L2131.2,696.2 L2133.0,699.6 L2134.8,696.2 L2137.2,698.5 L2140.2,698.0" fill="none" stroke="#87b3e6" stroke-width="5.6" stroke-linejoin="round" stroke-linecap="round"/><line x1="1540" y1="945.3" x2="2152.5" y2="945.3" stroke="#ccd6eb" stroke-width="3"/><line x1="1584" y1="946.5" x2="1584" y2="969" stroke="#c2c2c2" stroke-width="2.6"/><line x1="1726.4" y1="946.5" x2="1726.4" y2="969" stroke="#c2c2c2" stroke-width="2.6"/><line x1="1871.6" y1="946.5" x2="1871.6" y2="969" stroke="#c2c2c2" stroke-width="2.6"/><line x1="2014.4" y1="946.5" x2="2014.4" y2="969" stroke="#c2c2c2" stroke-width="2.6"/><text x="0" y="0" transform="translate(1591.8,983.6) rotate(-45)" text-anchor="end" font-family="Liberation Sans" font-size="28" fill="#666">14. Jan</text><text x="0" y="0" transform="translate(1734.2,983.6) rotate(-45)" text-anchor="end" font-family="Liberation Sans" font-size="28" fill="#666">15. Jan</text><text x="0" y="0" transform="translate(1879.4,983.6) rotate(-45)" text-anchor="end" font-family="Liberation Sans" font-size="28" fill="#666">16. Jan</text><text x="0" y="0" transform="translate(2022.2,983.6) rotate(-45)" text-anchor="end" font-family="Liberation Sans" font-size="28" fill="#666">17. Jan</text></svg>
<span class="t" style="left:2191.25px;top:349px;font-size:29.5px;font-weight:normal;color:#666;transform:scaleX(0.9225);">$4.500</span>
<span class="t" style="left:2191.25px;top:467px;font-size:29.5px;font-weight:normal;color:#666;transform:scaleX(0.9225);">$4.250</span>
<span class="t" style="left:2191.25px;top:584px;font-size:29.5px;font-weight:normal;color:#666;transform:scaleX(0.9225);">$4.000</span>
<span class="t" style="left:2191.25px;top:699px;font-size:29.5px;font-weight:normal;color:#666;transform:scaleX(0.9225);">$3.750</span>
<span class="t" style="left:2191.25px;top:816px;font-size:29.5px;font-weight:normal;color:#666;transform:scaleX(0.9225);">$3.500</span>
<span class="t" style="left:2191.25px;top:931px;font-size:29.5px;font-weight:normal;color:#666;transform:scaleX(0.9225);">$3.250</span>
<span class="t" style="left:1533.34px;top:1097px;font-size:41.75px;font-weight:normal;color:#000;transform:scaleX(0.9145);">1D</span>
<span class="t" style="left:1621.86px;top:1097px;font-size:41.75px;font-weight:normal;color:#93b0bc;transform:scaleX(0.9410);">1WK</span>
<span class="t" style="left:1744.54px;top:1097px;font-size:41.75px;font-weight:normal;color:#000;transform:scaleX(1.0097);">1M</span>
<span class="t" style="left:1841.88px;top:1097px;font-size:41.75px;font-weight:normal;color:#000;transform:scaleX(0.9031);">1YR</span>
<span class="t" style="left:1952.36px;top:1097px;font-size:41.75px;font-weight:normal;color:#000;transform:scaleX(0.9883);">Max</span>
<div class="a" style="left:1597.9px;top:1103.3px;width:3.6px;height:34px;background:#000;"></div>
<div class="a" style="left:1720.6px;top:1103.3px;width:3.6px;height:34px;background:#93b0bc;"></div>
<div class="a" style="left:1817.4px;top:1103.3px;width:3.6px;height:34px;background:#000;"></div>
<div class="a" style="left:1928.6px;top:1103.3px;width:3.6px;height:34px;background:#000;"></div>
<div class="a" style="left:1989px;top:1156px;width:129px;height:82.5px;background:#a6c4dc;"></div>
<div class="a" style="left:2130px;top:1156px;width:140px;height:82.5px;background:#cf3530;"></div>
<span class="t" style="left:2013.74px;top:1178px;font-size:36.0px;font-weight:normal;color:#fff;transform:scaleX(0.9405);">Copy</span>
<span class="t" style="left:2154.47px;top:1178px;font-size:36.0px;font-weight:normal;color:#fff;transform:scaleX(0.9434);">Share</span>
</body></html>
